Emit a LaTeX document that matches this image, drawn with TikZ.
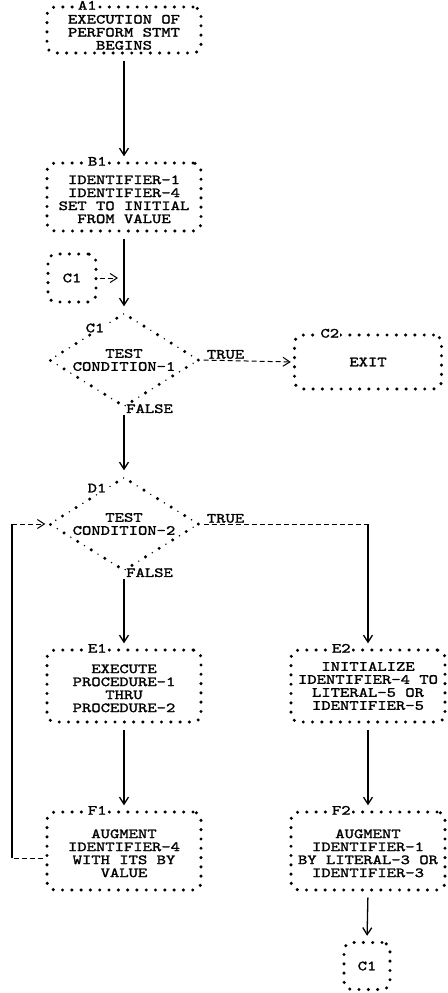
\documentclass[tikz,border=0pt]{standalone}
\usepackage{fontspec}
\newfontfamily\chartfont{lmmono10-regular.otf}[FakeStretch=1.27, FakeBold=1.6]
\usetikzlibrary{shapes.geometric,arrows.meta}

% text block set a little below the middle of its box
\newcommand{\lowered}[1]{\raisebox{-4pt}[\height][\depth]{\begin{tabular}{@{}c@{}}#1\end{tabular}}}

\tikzset{
  chart/.style={font={\chartfont\fontsize{14}{13}\selectfont}},
  starbox/.style={draw, line width=3.4pt, line cap=round, dash pattern=on 0pt off 9.3pt,
    rounded corners=8pt, minimum width=154pt, inner sep=0pt, align=center},
  decision/.style={diamond, aspect=1.6, draw, line width=3.4pt, line cap=round,
    dash pattern=on 0pt off 16pt,
    postaction={draw, line width=1.6pt, line cap=round, dash pattern=on 0pt off 16pt, dash phase=8pt},
    minimum width=150pt, minimum height=94pt, inner sep=0pt, align=center},
  tag/.style={fill=white, inner sep=1pt},
  tip/.style={-{Straight Barb[length=7pt,width=9pt]}},
  flow/.style={line width=1.3pt, tip, shorten <=6pt, shorten >=5pt},
  jump/.style={line width=1pt, dash pattern=on 5pt off 3pt},
}

\begin{document}
\begin{tikzpicture}[x=1pt, y=-1pt, chart]
\useasboundingbox (0,0) rectangle (447,993);

%Draw Left Column
\node[starbox, minimum height=46pt] (a1) at (124,30) {\lowered{EXECUTION OF\\PERFORM STMT\\BEGINS}};
\node[tag] (a1tag) at ([xshift=42pt]a1.north west) {A1};

\node[starbox, minimum height=68pt] (b1) at (124,197) {\lowered{IDENTIFIER-1\\IDENTIFIER-4\\SET TO INITIAL\\FROM VALUE}};
\node[tag] (b1tag) at ([xshift=52pt]b1.north west) {B1};

\node[decision] (test1) at (124,360) {TEST\\CONDITION-1};
\node[tag] (test1tag) at ([shift={(-29,-32)}]test1.center) {C1};

\node[decision] (test2) at (124,524) {TEST\\CONDITION-2};
\node[tag] (test2tag) at ([shift={(-27,-36)}]test2.center) {D1};

\node[starbox, minimum height=72pt] (e1) at (124,686) {\lowered{EXECUTE\\PROCEDURE-1\\THRU\\PROCEDURE-2}};
\node[tag] (e1tag) at ([xshift=52pt]e1.north west) {E1};

\node[starbox, minimum height=78pt] (f1) at (124,851) {\lowered{AUGMENT\\IDENTIFIER-4\\WITH ITS BY\\VALUE}};
\node[tag] (f1tag) at ([xshift=52pt]f1.north west) {F1};

%Draw Right Column
\node[starbox, minimum width=147pt, minimum height=54pt] (c2) at (368,362) {EXIT};
\node[tag] (c2tag) at ([xshift=37pt]c2.north west) {C2};

\node[starbox, minimum height=72pt] (e2) at (368,686) {INITIALIZE\\IDENTIFIER-4 TO\\LITERAL-5 OR\\IDENTIFIER-5};
\node[tag] (e2tag) at ([xshift=52pt]e2.north west) {E2};

\node[starbox, minimum height=78pt] (f2) at (368,851) {\lowered{AUGMENT\\IDENTIFIER-1\\BY LITERAL-3 OR\\IDENTIFIER-3}};
\node[tag] (f2tag) at ([xshift=52pt]f2.north west) {F2};

%Draw Connectors
\node[starbox, minimum width=48pt, minimum height=48pt] (con1in) at (72,278) {C1};
\node[starbox, minimum width=46pt, minimum height=47pt] (con1out) at (367,966) {C1};

%Draw Main Flow
\draw[flow] (a1.south) -- (b1.north);
\draw[flow] (b1.south) -- (test1.north);
\draw[flow] (test1.south) -- (test2.north);
\draw[flow] (test2.south) -- (e1.north);
\draw[flow] (e1.south) -- (f1.north);
\draw[flow] (e2.south) -- (f2.north);
\draw[flow] (f2.south) -- (con1out.north);
\draw[jump, tip, shorten <=2pt, shorten >=6pt] (con1in.east) -- (con1in.east -| b1.south);

%Draw Branches
\draw[jump, tip, shorten <=3pt, shorten >=2pt] (test1.east) -- (c2.west);
\node[anchor=south west, inner sep=1pt] (true1) at ([xshift=5pt]test1.east) {TRUE};
\node[anchor=west, inner sep=2pt] (false1) at (test1.south) {FALSE};

\coordinate (d1turn) at (test2.east -| e2.north);
\draw[jump, shorten <=3pt] (test2.east) -- (d1turn);
\draw[flow, shorten <=0pt] (d1turn) -- (e2.north);
\node[anchor=south west, inner sep=1pt] (true2) at ([xshift=5pt]test2.east) {TRUE};
\node[anchor=west, inner sep=2pt] (false2) at (test2.south) {FALSE};

%Draw Loop Back
\coordinate (loopdn) at (12,858);
\coordinate (loopup) at (12,524);
\draw[jump, shorten <=2pt] ([yshift=-7pt]f1.west) -- (loopdn);
\draw[line width=1.3pt] (loopdn) -- (loopup);
\draw[jump, tip, shorten >=2pt] (loopup) -- (test2.west);

\end{tikzpicture}
\end{document}
